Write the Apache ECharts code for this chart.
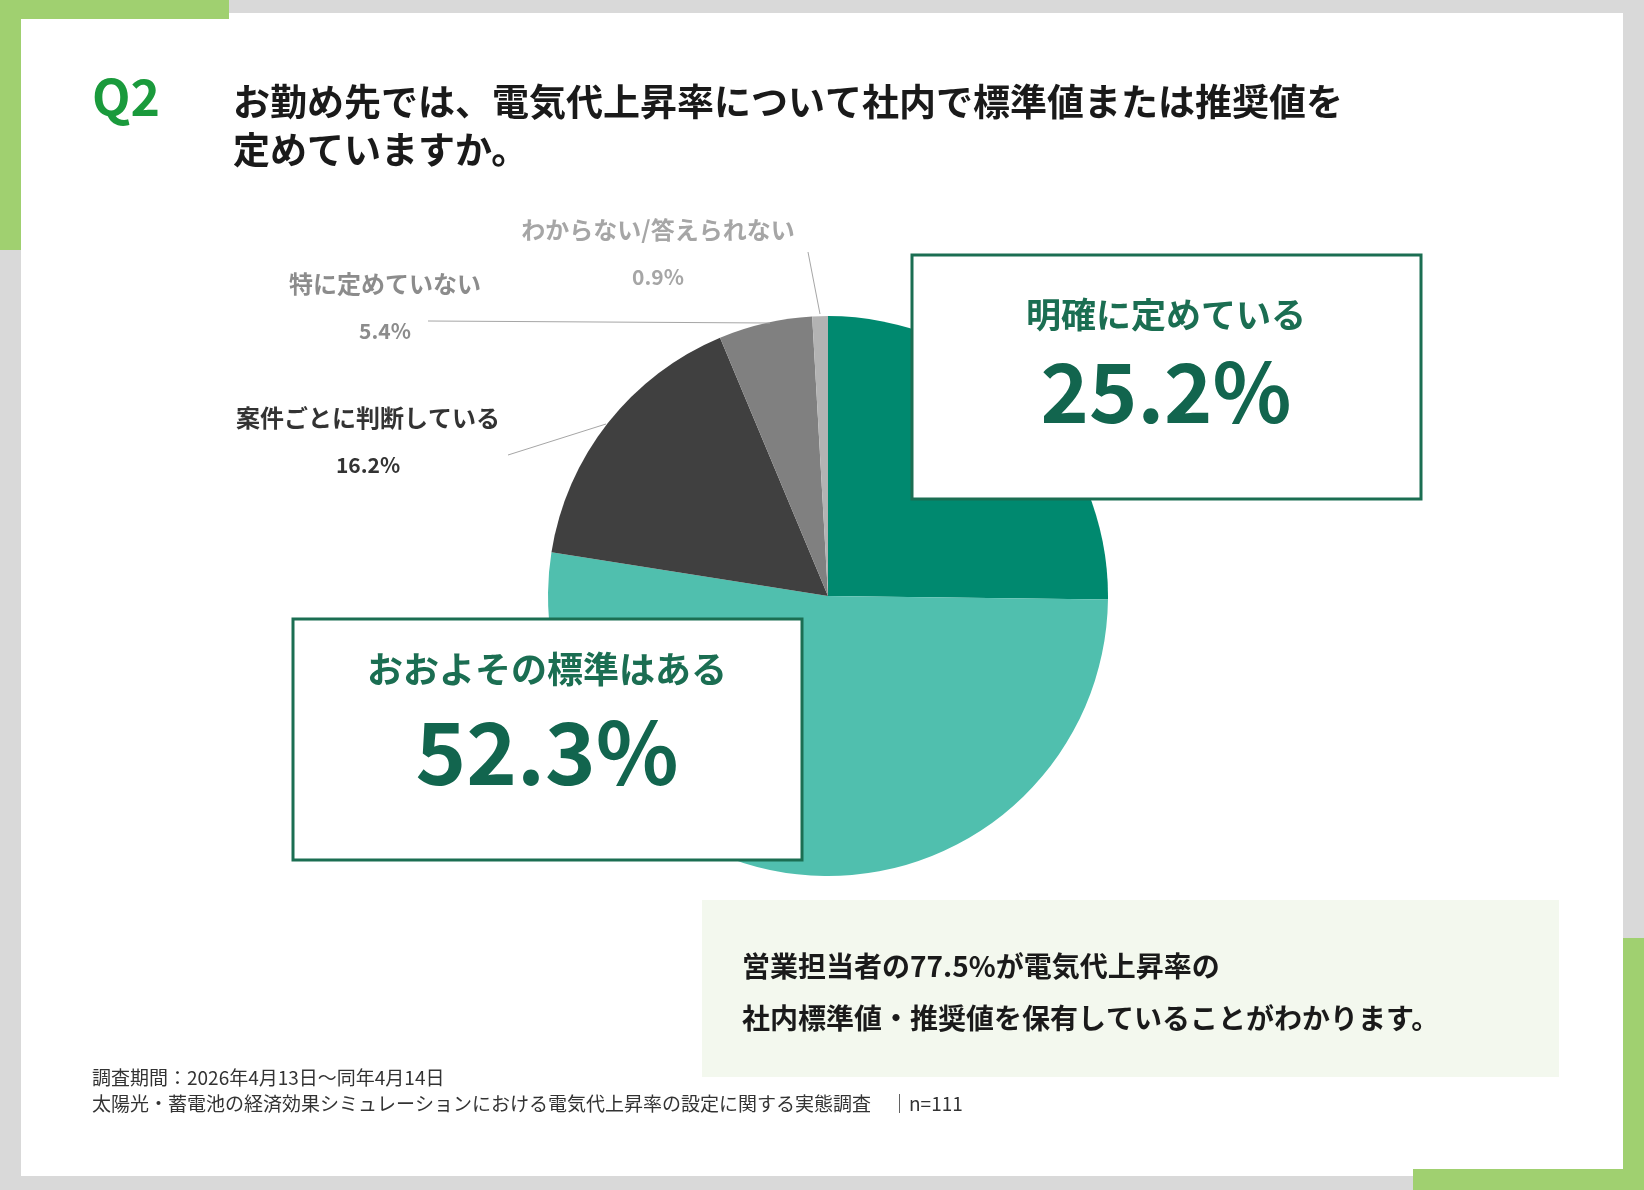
<!DOCTYPE html>
<html><head><meta charset="utf-8">
<script src="https://cdn.jsdelivr.net/npm/echarts@6/dist/echarts.min.js"></script>
<style>html,body{margin:0;padding:0;background:#d9d9d9}#main{width:1644px;height:1190px}</style>
</head><body><div id="main"></div>
<script>
var categories = ['明確に定めている', 'おおよその標準はある', '案件ごとに判断している', '特に定めていない', 'わからない/答えられない'];
var values = [25.2, 52.3, 16.2, 5.4, 0.9];
var colors = ['#00896f', '#50bfae', '#404040', '#808080', '#b3b3b3'];
var F = '"Noto Sans CJK JP", sans-serif';

var chart = echarts.init(document.getElementById('main'));

function pct(i) { return values[i].toFixed(1) + '%'; }

// small outside labels: [index, x, y, color, line points]
var smallLabels = [
    [4, 658, 230, '#a6a6a6', [[808, 252], [820, 314]]],
    [3, 385, 284, '#8c8c8c', [[428, 321], [770, 323]]],
    [2, 368, 418, '#333333', [[508, 455], [606, 424]]]
];

var graphic = [
    // panel
    {type: 'rect', shape: {x: 21, y: 13, width: 1602, height: 1163}, style: {fill: '#fff'}, z: 0},
    {type: 'rect', shape: {x: 0, y: 0, width: 229, height: 19}, style: {fill: '#a0d070'}},
    {type: 'rect', shape: {x: 0, y: 0, width: 21, height: 250}, style: {fill: '#a0d070'}},
    {type: 'rect', shape: {x: 1623, y: 938, width: 21, height: 252}, style: {fill: '#a0d070'}},
    {type: 'rect', shape: {x: 1413, y: 1169, width: 231, height: 21}, style: {fill: '#a0d070'}},
    // title
    {type: 'text', left: 92, top: 72, style: {text: 'Q2', font: 'bold 50px ' + F, fill: '#1a9a3c'}},
    {type: 'text', left: 233, top: 78, style: {text: 'お勤め先では、電気代上昇率について社内で標準値または推奨値を\n定めていますか。', font: 'bold 37px ' + F, fill: '#1a1a1a', lineHeight: 48}},
    // big label boxes
    {type: 'rect', z: 10, shape: {x: 912, y: 255, width: 509, height: 244}, style: {fill: '#fff', stroke: '#1b6e52', lineWidth: 3}},
    {type: 'text', z: 11, x: 1166, y: 315, style: {text: categories[0], font: 'bold 35px ' + F, fill: '#1b6e52', align: 'center', verticalAlign: 'middle'}},
    {type: 'text', z: 11, x: 1166, y: 392, style: {text: pct(0), font: 'bold 82px ' + F, fill: '#12654e', align: 'center', verticalAlign: 'middle'}},
    {type: 'rect', z: 10, shape: {x: 293, y: 619, width: 509, height: 241}, style: {fill: '#fff', stroke: '#1b6e52', lineWidth: 3}},
    {type: 'text', z: 11, x: 547, y: 669, style: {text: categories[1], font: 'bold 36px ' + F, fill: '#1b6e52', align: 'center', verticalAlign: 'middle'}},
    {type: 'text', z: 11, x: 547, y: 752, style: {text: pct(1), font: 'bold 86px ' + F, fill: '#12654e', align: 'center', verticalAlign: 'middle'}},
    // summary box
    {type: 'rect', shape: {x: 702, y: 900, width: 857, height: 177}, style: {fill: '#f3f8ee'}},
    {type: 'text', left: 742, top: 940, style: {text: '営業担当者の77.5%が電気代上昇率の\n社内標準値・推奨値を保有していることがわかります。', font: 'bold 28px ' + F, fill: '#1a1a1a', lineHeight: 52}},
    // footer
    {type: 'text', left: 92, top: 1065, style: {text: '調査期間：2026年4月13日～同年4月14日\n太陽光・蓄電池の経済効果シミュレーションにおける電気代上昇率の設定に関する実態調査　│n=111', font: '19px ' + F, fill: '#333', lineHeight: 26}}
];

smallLabels.forEach(function (s) {
    graphic.push({type: 'text', x: s[1], y: s[2], style: {text: categories[s[0]], font: 'bold 24px ' + F, fill: s[3], align: 'center', verticalAlign: 'middle'}});
    graphic.push({type: 'text', x: s[1], y: s[2] + 47, style: {text: pct(s[0]), font: 'bold 21px ' + F, fill: s[3], align: 'center', verticalAlign: 'middle'}});
    graphic.push({type: 'polyline', z: 5, shape: {points: s[4]}, style: {stroke: '#a6a6a6', lineWidth: 1}});
});

var option = {
    backgroundColor: '#d9d9d9',
    graphic: graphic,
    series: [{
        type: 'pie',
        z: 3,
        center: [828, 596],
        radius: [0, 280],
        startAngle: 90,
        clockwise: true,
        label: {show: false},
        labelLine: {show: false},
        itemStyle: {borderColor: '#fff', borderWidth: 0},
        emphasis: {disabled: true},
        data: categories.map(function (c, i) {
            return {name: c, value: values[i], itemStyle: {color: colors[i]}};
        })
    }]
};
chart.setOption(option);
</script></body></html>
